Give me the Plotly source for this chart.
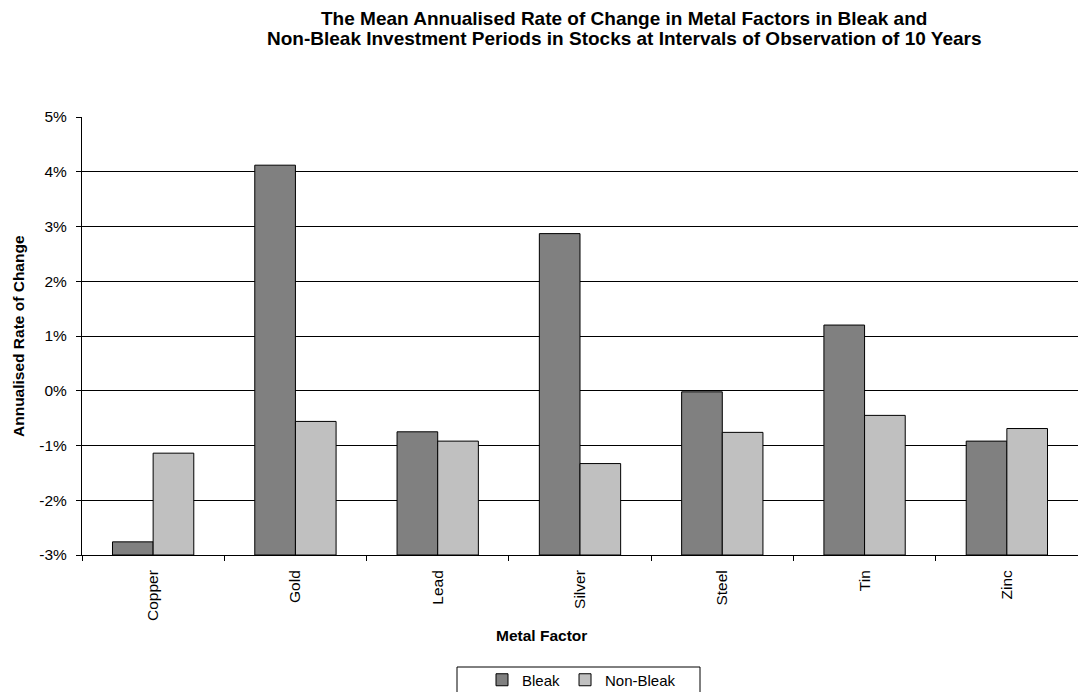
import plotly.graph_objects as go

# Metal factors and mean annualised rate of change (fraction) in each period type
metals = ["Copper", "Gold", "Lead", "Silver", "Steel", "Tin", "Zinc"]
bleak = [-0.0276, 0.0412, -0.0075, 0.0287, -0.0002, 0.0120, -0.0092]
non_bleak = [-0.0114, -0.0056, -0.0092, -0.0133, -0.0076, -0.0045, -0.0069]

# Bars rise from the bottom of the value axis
axis_floor = -0.03
y_ticks = [-0.03, -0.02, -0.01, 0.0, 0.01, 0.02, 0.03, 0.04, 0.05]
y_tick_labels = ["-3%", "-2%", "-1%", "0%", "1%", "2%", "3%", "4%", "5%"]

title_lines = [
    "The Mean Annualised Rate of Change in Metal Factors in Bleak and",
    "Non-Bleak Investment Periods in Stocks at Intervals of Observation of 10 Years",
]

FONT = "Liberation Sans, Arial, sans-serif"
W, H = 1078, 692
L, R, T, B = 82, 0, 117, 137
PW, PH = W - L - R, H - T - B


def px_x(x):
    return (x - L) / PW


def px_y(y):
    return (H - B - y) / PH


fig = go.Figure()
for name, vals, colour in [("Bleak", bleak, "#808080"), ("Non-Bleak", non_bleak, "#C0C0C0")]:
    fig.add_trace(go.Bar(
        name=name,
        x=metals,
        y=[v - axis_floor for v in vals],
        base=axis_floor,
        customdata=vals,
        hovertemplate="%{x}: %{customdata:.2%}<extra>" + name + "</extra>",
        marker=dict(color=colour, line=dict(color="#000000", width=1)),
    ))

annotations = [
    dict(text="<b>%s</b>" % line, xref="paper", yref="paper",
         x=px_x(624), y=px_y(cy), xanchor="center", yanchor="middle",
         showarrow=False, font=dict(family=FONT, size=19, color="#000000"))
    for line, cy in zip(title_lines, [18, 39])
]
annotations += [
    dict(text="<b>Metal Factor</b>", xref="paper", yref="paper",
         x=px_x(541), y=px_y(635), xanchor="center", yanchor="middle",
         showarrow=False, font=dict(family=FONT, size=15.5, color="#000000")),
    dict(text="<b>Annualised Rate of Change</b>", xref="paper", yref="paper",
         x=px_x(18), y=px_y(336), textangle=-90, xanchor="center", yanchor="middle",
         showarrow=False, font=dict(family=FONT, size=15.5, color="#000000")),
]

fig.update_layout(
    width=W, height=H,
    margin=dict(l=L, r=R, t=T, b=B),
    paper_bgcolor="white", plot_bgcolor="white",
    barmode="group", bargap=0.4286, bargroupgap=0,
    font=dict(family=FONT, size=15, color="#000000"),
    showlegend=True,
    legend=dict(
        orientation="h",
        x=px_x(482), xanchor="left", xref="paper",
        y=(H - 680) / H, yanchor="middle", yref="container",
        borderwidth=0, bgcolor="rgba(0,0,0,0)",
        font=dict(family=FONT, size=15, color="#000000"),
        itemwidth=30,
        traceorder="normal",
    ),
    # frame around the legend entries
    shapes=[dict(type="rect", xref="paper", yref="paper",
                 x0=px_x(457), x1=px_x(700), y0=px_y(667), y1=px_y(700),
                 line=dict(color="#000000", width=1), fillcolor="rgba(0,0,0,0)",
                 layer="below")],
    xaxis=dict(
        type="category",
        tickangle=-90,
        tickson="boundaries",
        ticks="outside", ticklen=5, tickcolor="#000000",
        ticklabelstandoff=8,
        showline=True, linecolor="#000000", linewidth=1,
        showgrid=False,
        tickfont=dict(family=FONT, size=15.5, color="#000000"),
    ),
    yaxis=dict(
        range=[-0.03, 0.05],
        tickvals=y_ticks,
        ticktext=y_tick_labels,
        ticks="outside", ticklen=5, tickcolor="#000000",
        ticklabelstandoff=6,
        showline=True, linecolor="#000000", linewidth=1,
        showgrid=True, gridcolor="#000000", gridwidth=1,
        zeroline=False,
        tickfont=dict(family=FONT, size=15.5, color="#000000"),
    ),
    annotations=annotations,
)

fig.write_html("out.html")
